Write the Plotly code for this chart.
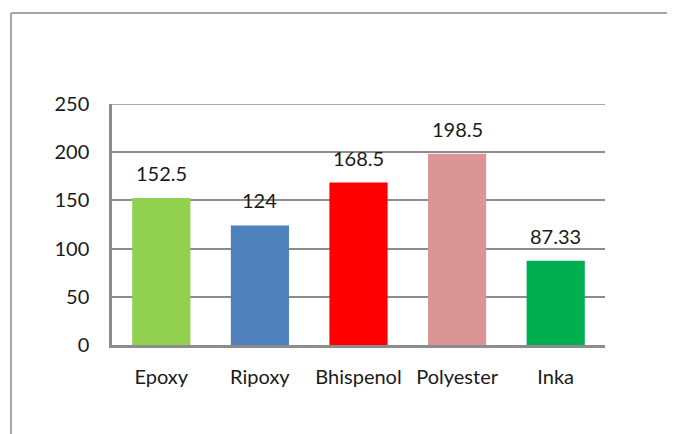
import plotly.graph_objects as go

# data
materials = ["Epoxy", "Ripoxy", "Bhispenol", "Polyester", "Inka"]
values = [152.5, 124, 168.5, 198.5, 87.33]
labels = ["152.5", "124", "168.5", "198.5", "87.33"]
colors = ["#92D050", "#4F81BD", "#FF0000", "#D99694", "#00B050"]
y_ticks = [0, 50, 100, 150, 200, 250]

# page has an 8px body margin, so the figure is a bit smaller than the window
OFF = 8
W, H = 675 - OFF, 434 - OFF
ML, MT = 112 - OFF, 104 - OFF
MR = W - (605 - OFF)
MB = H - (345 - OFF)
plot_w = W - ML - MR
plot_h = H - MT - MB

font_family = "Lato, 'Open Sans', sans-serif"
text_color = "#1a1a1a"
grid_color = "#8c8c8c"
fsize = 20

fig = go.Figure()

fig.add_trace(go.Bar(
    x=materials,
    y=values,
    width=0.59,
    marker_color=colors,
    marker_line_width=0,
    showlegend=False,
    hoverinfo="skip",
))

# value labels just above each bar
for m, v, t in zip(materials, values, labels):
    fig.add_annotation(
        x=m, y=v, text=t,
        showarrow=False,
        yanchor="bottom",
        yshift=11,
        font=dict(size=fsize, color=text_color, family=font_family),
    )

# top gridline (plotly drops the grid line sitting on the range edge)
fig.add_hline(y=y_ticks[-1], line=dict(color=grid_color, width=1.5))

# outer frame (left + top edges visible in the reference)
def px_to_paper_x(px):
    return (px - OFF - ML) / plot_w

def px_to_paper_y(py):
    return (H - MB - (py - OFF)) / plot_h

fig.add_shape(type="line", xref="paper", yref="paper",
              x0=px_to_paper_x(11), x1=px_to_paper_x(11),
              y0=px_to_paper_y(13), y1=px_to_paper_y(440),
              line=dict(color="#a6a6a6", width=2))
fig.add_shape(type="line", xref="paper", yref="paper",
              x0=px_to_paper_x(11), x1=px_to_paper_x(680),
              y0=px_to_paper_y(13), y1=px_to_paper_y(13),
              line=dict(color="#a6a6a6", width=2))

fig.update_layout(
    width=W, height=H,
    margin=dict(l=ML, r=MR, t=MT, b=MB, pad=0),
    plot_bgcolor="white",
    paper_bgcolor="white",
    bargap=0.41,
    font=dict(family=font_family, color=text_color, size=fsize),
    xaxis=dict(
        showgrid=False,
        showline=True,
        linecolor=grid_color,
        linewidth=3,
        ticks="",
        ticklabelstandoff=12,
        tickfont=dict(size=fsize, color=text_color),
        fixedrange=True,
    ),
    yaxis=dict(
        range=[0, 250],
        tickvals=y_ticks,
        showgrid=True,
        gridcolor=grid_color,
        gridwidth=1.5,
        showline=True,
        linecolor=grid_color,
        linewidth=2.5,
        zeroline=False,
        ticks="",
        ticklabelstandoff=16,
        tickfont=dict(size=fsize, color=text_color),
        fixedrange=True,
    ),
)

fig.write_html("out.html", config=dict(displayModeBar=False))
